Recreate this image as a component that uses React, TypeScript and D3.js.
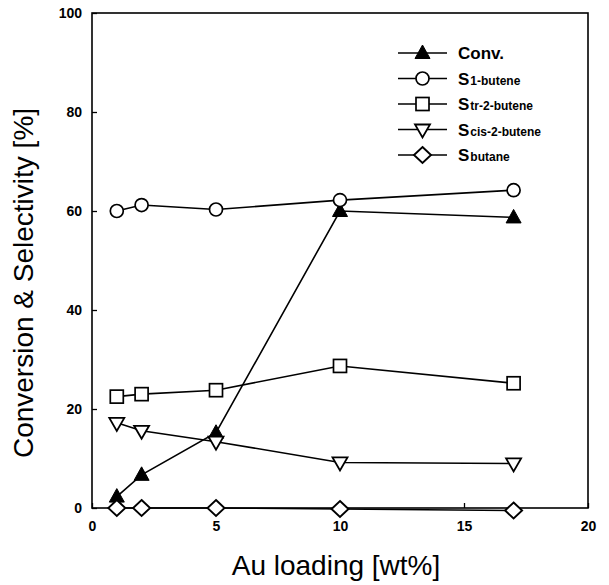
import React, { useEffect, useRef } from "react";
import * as d3 from "d3";

// Au loading (wt%)
const loadings = [1, 2, 5, 10, 17];

// series values
const conv = [2.3, 6.7, 15.2, 60, 58.7];
const s1Butene = [60, 61.2, 60.3, 62.2, 64.2];
const sTr2Butene = [22.5, 23, 23.8, 28.7, 25.2];
const sCis2Butene = [17.2, 15.6, 13.4, 9.2, 9.0];
const sButane = [0, 0, 0, -0.2, -0.5];

const seriesNames = ["Conv.", "S|1-butene", "S|tr-2-butene", "S|cis-2-butene", "S|butane"];
const markers = ["triangleFilled", "circle", "square", "triangleDown", "diamond"];

const xTicks = [0, 5, 10, 15, 20];
const yTicks = [0, 20, 40, 60, 80, 100];

const FONT = "'Liberation Sans', Arial, Helvetica, sans-serif";

function drawMarker(g: any, type: string, cx: number, cy: number) {
  if (type === "circle") {
    g.append("circle").attr("cx", cx).attr("cy", cy).attr("r", 6.5)
      .attr("fill", "white").attr("stroke", "black").attr("stroke-width", 1.7);
  } else if (type === "square") {
    g.append("rect").attr("x", cx - 6.5).attr("y", cy - 6.5).attr("width", 13).attr("height", 13)
      .attr("fill", "white").attr("stroke", "black").attr("stroke-width", 1.7);
  } else if (type === "triangleFilled") {
    g.append("path")
      .attr("d", `M${cx},${cy - 8} L${cx + 7.5},${cy + 5.5} L${cx - 7.5},${cy + 5.5} Z`)
      .attr("fill", "black").attr("stroke", "black").attr("stroke-width", 1);
  } else if (type === "triangleDown") {
    g.append("path")
      .attr("d", `M${cx - 7.5},${cy - 5} L${cx + 7.5},${cy - 5} L${cx},${cy + 8} Z`)
      .attr("fill", "white").attr("stroke", "black").attr("stroke-width", 1.8);
  } else if (type === "diamond") {
    g.append("path")
      .attr("d", `M${cx},${cy - 8} L${cx + 8.5},${cy} L${cx},${cy + 8} L${cx - 8.5},${cy} Z`)
      .attr("fill", "white").attr("stroke", "black").attr("stroke-width", 1.9);
  }
}

export default function App() {
  const ref = useRef<SVGSVGElement>(null);

  useEffect(() => {
    const svg = d3.select(ref.current);
    svg.selectAll("*").remove();

    const left = 92, right = 588, top = 13, bottom = 508;

    const x = d3.scaleLinear().domain([0, 20]).range([left, right]);
    const y = d3.scaleLinear().domain([0, 100]).range([bottom, top]);

    // frame
    svg.append("rect")
      .attr("x", left).attr("y", top)
      .attr("width", right - left).attr("height", bottom - top)
      .attr("fill", "none").attr("stroke", "black").attr("stroke-width", 1.6);

    // x axis (ticks inward)
    const xAxis = svg.append("g")
      .attr("transform", `translate(0,${bottom})`)
      .call(d3.axisBottom(x).tickValues(xTicks).tickSize(-5).tickPadding(13));
    xAxis.select(".domain").remove();
    xAxis.selectAll(".tick line").attr("stroke-width", 1.3);
    xAxis.selectAll(".tick text")
      .attr("font-family", FONT).attr("font-size", 14).attr("font-weight", "bold").attr("fill", "black");

    // y axis (ticks inward)
    const yAxis = svg.append("g")
      .attr("transform", `translate(${left},0)`)
      .call(d3.axisLeft(y).tickValues(yTicks).tickSize(-5).tickPadding(10));
    yAxis.select(".domain").remove();
    yAxis.selectAll(".tick line").attr("stroke-width", 1.3);
    yAxis.selectAll(".tick text")
      .attr("font-family", FONT).attr("font-size", 14).attr("font-weight", "bold").attr("fill", "black");

    // axis titles
    svg.append("text")
      .attr("x", 336).attr("y", 575)
      .attr("text-anchor", "middle")
      .attr("font-family", FONT).attr("font-size", 28)
      .text("Au loading [wt%]");

    svg.append("text")
      .attr("transform", `translate(33,283) rotate(-90)`)
      .attr("text-anchor", "middle")
      .attr("font-family", FONT).attr("font-size", 28)
      .text("Conversion & Selectivity [%]");

    // series
    const allSeries = [conv, s1Butene, sTr2Butene, sCis2Butene, sButane];
    const line = d3.line<number>()
      .x((d, i) => x(loadings[i]))
      .y((d) => y(d));

    allSeries.forEach((vals) => {
      svg.append("path")
        .datum(vals)
        .attr("d", line)
        .attr("fill", "none").attr("stroke", "black").attr("stroke-width", 1.6);
    });
    // markers go on top of all lines
    allSeries.forEach((vals, k) => {
      const g = svg.append("g");
      vals.forEach((v, i) => drawMarker(g, markers[k], x(loadings[i]), y(v)));
    });

    // legend
    const lgX1 = 398, lgX2 = 447, lgTextX = 458, lgY0 = 53, lgStep = 25.5;
    seriesNames.forEach((name, k) => {
      const cy = lgY0 + k * lgStep;
      const g = svg.append("g");
      g.append("line").attr("x1", lgX1).attr("x2", lgX2).attr("y1", cy).attr("y2", cy)
        .attr("stroke", "black").attr("stroke-width", 1.6);
      drawMarker(g, markers[k], (lgX1 + lgX2) / 2, cy);
      const t = g.append("text")
        .attr("x", lgTextX).attr("y", cy + 6)
        .attr("font-family", FONT).attr("font-weight", "bold").attr("fill", "black");
      const parts = name.split("|");
      t.append("tspan").attr("font-size", 17).text(parts[0]);
      if (parts[1]) {
        t.append("tspan").attr("font-size", 12).attr("dx", 1).text(parts[1]);
      }
    });
  }, []);

  return (
    <svg
      ref={ref}
      width={609}
      height={585}
      style={{ position: "absolute", left: 0, top: 0, background: "white" }}
    />
  );
}
